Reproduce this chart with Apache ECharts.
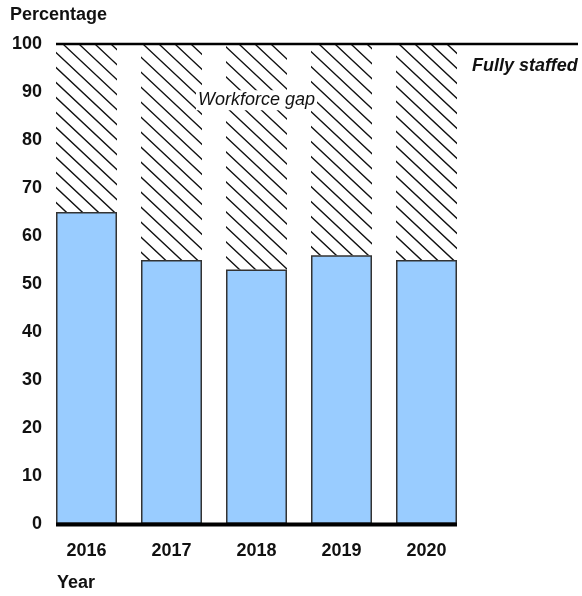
<!DOCTYPE html>
<html><head><meta charset="utf-8">
<style>html,body{margin:0;padding:0;background:#fff}#c{width:582px;height:596px}</style>
<script src="https://cdn.jsdelivr.net/npm/echarts@6/dist/echarts.min.js"></script>
</head><body><div id="c"></div>
<script>
const years = ['2016', '2017', '2018', '2019', '2020'];
const staffed = [65, 55, 53, 56, 55];
const fullLevel = 100;
const yTicks = [0, 10, 20, 30, 40, 50, 60, 70, 80, 90, 100];
const gap = staffed.map(v => fullLevel - v);

const FONT = '"Liberation Sans", Arial, sans-serif';
const FS = 18;

// hatch tile (large, to avoid seams inside bars)
const tile = document.createElement('canvas');
const SW = 16, SH = 15, N = 30;
const TW = SW * N, TH = SH * N;
tile.width = TW; tile.height = TH;
const tc = tile.getContext('2d');
tc.strokeStyle = '#111';
tc.lineWidth = 1.3;
tc.beginPath();
for (let k = -N - 1; k <= N + 1; k++) {
  const x0 = k * SW;
  tc.moveTo(x0, 0);
  tc.lineTo(x0 + TW, TH);
}
tc.stroke();

const chart = echarts.init(document.getElementById('c'));
const BW = 61;
chart.setOption({
  animation: false,
  backgroundColor: '#fff',
  grid: { left: 44, right: 113, top: 44, bottom: 72 },
  xAxis: {
    type: 'category', data: years,
    axisLine: { show: false }, axisTick: { show: false },
    axisLabel: { color: '#111', fontFamily: FONT, fontWeight: 'bold', fontSize: FS, margin: 18 }
  },
  yAxis: {
    type: 'value', min: 0, max: 100, interval: 10,
    splitLine: { show: false }, axisLine: { show: false }, axisTick: { show: false },
    axisLabel: { color: '#111', fontFamily: FONT, fontWeight: 'bold', fontSize: FS, margin: 2,
      formatter: v => yTicks.includes(v) ? String(v) : '' }
  },
  series: [
    { type: 'bar', stack: 's', data: staffed, barWidth: BW,
      itemStyle: { color: '#99CCFF', borderColor: '#333', borderWidth: 1.5 } },
    { type: 'bar', stack: 's', data: gap, barWidth: BW,
      itemStyle: { color: { image: tile, repeat: 'repeat' } } }
  ]
});

const p0 = chart.convertToPixel({ gridIndex: 0 }, [years[0], 0]);
const pN = chart.convertToPixel({ gridIndex: 0 }, [years[years.length - 1], fullLevel]);
const pTop = chart.convertToPixel({ gridIndex: 0 }, [years[0], fullLevel]);
const pLbl = chart.convertToPixel({ gridIndex: 0 }, [years[2], 88.3]);
const pFS = chart.convertToPixel({ gridIndex: 0 }, [years[4], 95.4]);

chart.setOption({
  graphic: [
    { type: 'line', z: 100, shape: { x1: p0[0] - BW / 2, y1: p0[1] + 0.5, x2: pN[0] + BW / 2, y2: p0[1] + 0.5 },
      style: { stroke: '#000', lineWidth: 4 } },
    { type: 'line', z: 100, shape: { x1: pTop[0] - BW / 2, y1: pTop[1], x2: 578, y2: pTop[1] },
      style: { stroke: '#000', lineWidth: 2.5 } },
    { type: 'text', z: 100, x: pLbl[0], y: pLbl[1],
      style: { text: 'Workforce gap', fontFamily: FONT, fontStyle: 'italic', fontSize: FS, fill: '#111',
        backgroundColor: '#fff', padding: [1, 2], align: 'center', verticalAlign: 'middle' } },
    { type: 'text', z: 100, x: pN[0] + BW / 2 + 15, y: pFS[1],
      style: { text: 'Fully staffed', fontFamily: FONT, fontStyle: 'italic', fontWeight: 'bold', fontSize: FS, fill: '#111',
        align: 'left', verticalAlign: 'middle' } },
    { type: 'text', z: 100, left: 10, top: 6,
      style: { text: 'Percentage', fontFamily: FONT, fontWeight: 'bold', fontSize: FS, fill: '#111' } },
    { type: 'text', z: 100, left: 57, top: 574,
      style: { text: 'Year', fontFamily: FONT, fontWeight: 'bold', fontSize: FS, fill: '#111' } }
  ]
});
</script></body></html>
